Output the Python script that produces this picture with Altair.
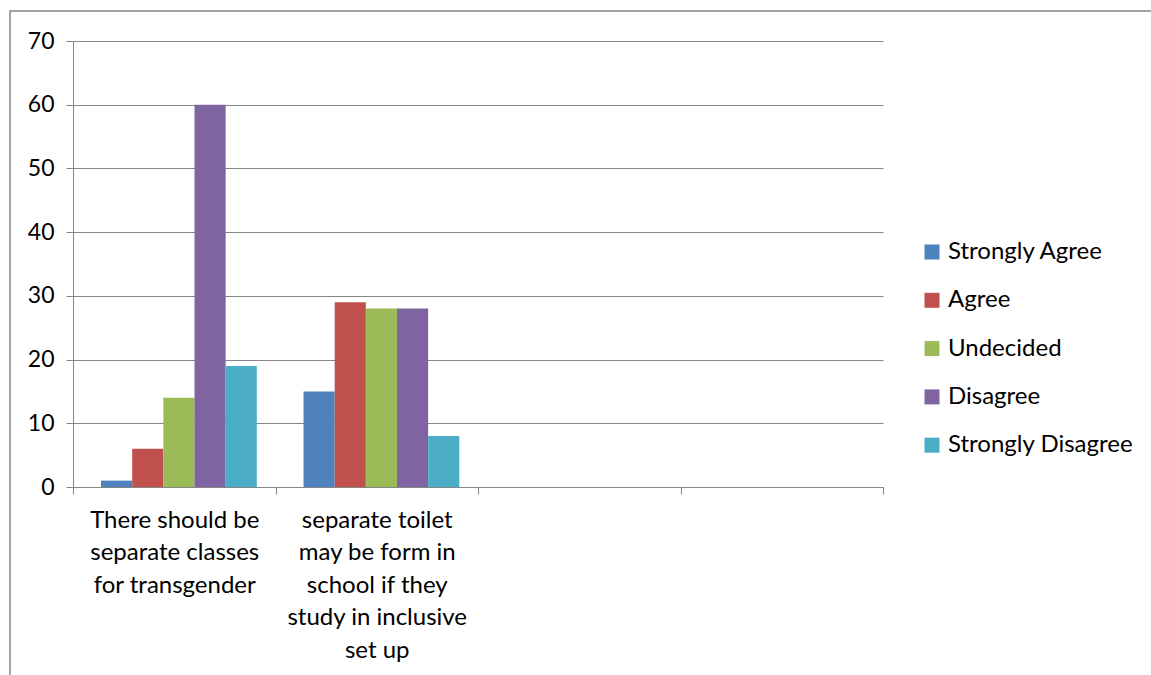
import altair as alt
import pandas as pd

categories = [
    "There should be|separate classes|for transgender",
    "separate toilet|may be form in|school if they|study in inclusive|set up",
    " ",
    "  ",
]
series = ["Strongly Agree", "Agree", "Undecided", "Disagree", "Strongly Disagree"]
values_cat1 = [1, 6, 14, 60, 19]
values_cat2 = [15, 29, 28, 28, 8]
colors = ["#4F81BD", "#C0504D", "#9BBB59", "#8064A2", "#4BACC6"]

rows = []
for s, v in zip(series, values_cat1):
    rows.append({"category": categories[0], "series": s, "value": v})
for s, v in zip(series, values_cat2):
    rows.append({"category": categories[1], "series": s, "value": v})
df = pd.DataFrame(rows)

FONT = "Lato"
GRAY = "#868686"

bars = alt.Chart(df).mark_bar().encode(
    x=alt.X(
        "category:N",
        sort=categories,
        scale=alt.Scale(domain=categories, paddingInner=0, paddingOuter=0),
        axis=alt.Axis(
            title=None,
            labelExpr="split(datum.label, '|')",
            labelAngle=0,
            labelLimit=0,
            labelFont=FONT,
            labelFontSize=24,
            labelColor="black",
            labelLineHeight=32.5,
            labelPadding=14,
            labelBaseline="top",
            tickBand="extent",
            tickColor=GRAY,
            tickSize=7,
            domainColor=GRAY,
            grid=False,
        ),
    ),
    xOffset=alt.XOffset(
        "series:N",
        sort=series,
        scale=alt.Scale(domain=series, paddingInner=0, paddingOuter=0.75, align=0.6),
    ),
    y=alt.Y(
        "value:Q",
        scale=alt.Scale(domain=[0, 70], nice=False),
        axis=alt.Axis(
            title=None,
            values=[0, 10, 20, 30, 40, 50, 60, 70],
            labelFont=FONT,
            labelFontSize=23,
            labelColor="black",
            labelPadding=12,
            tickColor=GRAY,
            tickSize=7,
            domainColor=GRAY,
            gridColor=GRAY,
            gridOpacity=1,
        ),
    ),
    color=alt.Color(
        "series:N",
        sort=series,
        scale=alt.Scale(domain=series, range=colors),
        legend=alt.Legend(
            title=None,
            orient="none",
            legendX=847,
            legendY=199,
            symbolType="square",
            symbolSize=225,
            symbolStrokeWidth=0,
            labelFont=FONT,
            labelFontSize=24,
            labelLimit=0,
            labelColor="black",
            labelOffset=4,
            rowPadding=24.3,
        ),
    ),
)

border = alt.Chart(pd.DataFrame({"a": [0]})).mark_rect(
    fill="transparent", stroke=GRAY, strokeWidth=1.5
).encode(
    x=alt.value(-63), x2=alt.value(1090), y=alt.value(-30), y2=alt.value(650)
)

chart = alt.layer(border, bars).properties(
    width=810,
    height=446,
    padding={"left": 73, "top": 41, "right": 268, "bottom": 188},
    autosize=alt.AutoSizeParams(type="none"),
    background="white",
).configure_view(strokeWidth=0)

chart.save("out.html", embed_options={"renderer": "svg", "actions": False})
